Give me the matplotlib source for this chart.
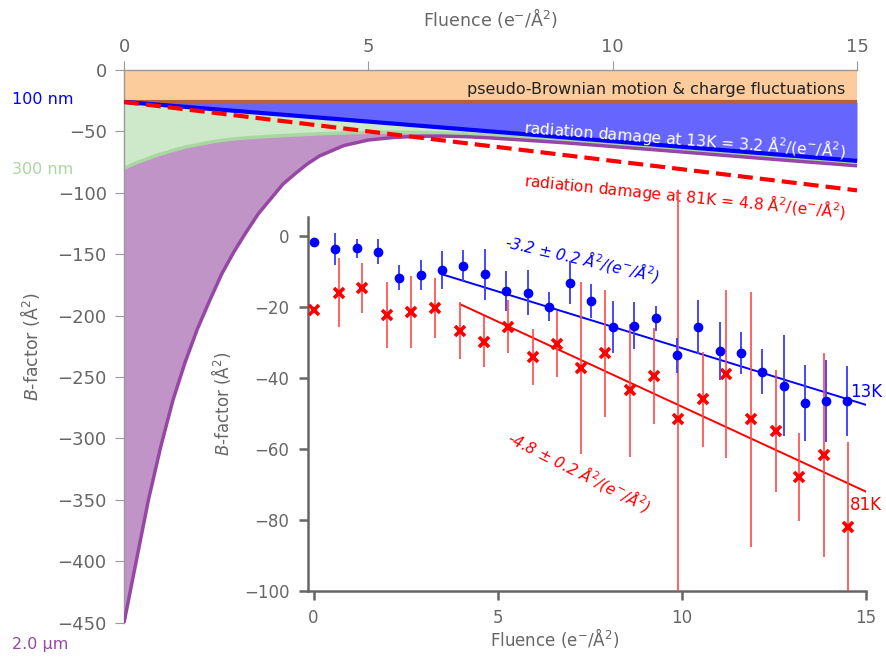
import numpy as np
import matplotlib
matplotlib.use("Agg")
import matplotlib.pyplot as plt

plt.rcParams['font.family'] = ['DejaVu Sans']

# Model curves for the main panel (fluence in e-/A^2, B-factor in A^2)
base_b = -26.0           # pseudo-Brownian motion & charge fluctuation offset
slope_13k = 3.2          # A^2 per e-/A^2
slope_81k = 4.8

fluence = [0, 0.25, 0.5, 0.75, 1.0, 1.25, 1.5, 1.75, 2.0, 2.25, 2.5, 2.75, 3.0,
           3.25, 3.5, 3.75, 4.0, 4.5, 5.0, 5.5, 6.0, 6.5, 7.0, 7.5, 8.0, 9.0,
           10.0, 11.0, 12.0, 13.0, 14.0, 15.0]
b_300nm = [-80, -75.5, -72, -68.5, -65.5, -62.8, -60.8, -58.9, -57.3, -56.1,
           -55.3, -54.6, -54, -53.4, -52.9, -52.4, -51.9, -51.2, -50.8, -50.6,
           -50.8, -51.3, -52.0, -53.2, -54.6, -57.6, -60.8, -64, -67.2, -70.4,
           -73.5, -76.6]
b_2um = [-450, -400, -350, -307, -269, -238, -211, -188, -166, -148, -132,
         -117, -105, -93, -84.5, -76.5, -70, -61.5, -57, -55, -54, -53.8,
         -54.3, -55.3, -56.6, -59.2, -62.3, -65.4, -68.6, -71.8, -74.9, -78]

# Measured B-factors for the inset
k13_x = [0.0, 0.59, 1.18, 1.75, 2.32, 2.91, 3.49, 4.07, 4.66, 5.24, 5.82, 6.40,
         6.98, 7.55, 8.13, 8.71, 9.29, 9.87, 10.44, 11.03, 11.61, 12.18, 12.77,
         13.36, 13.93, 14.50]
k13_b = [-1.5, -3.5, -3.3, -4.3, -11.6, -10.9, -9.5, -8.2, -10.6, -15.4, -15.9,
         -19.8, -13.0, -18.2, -25.5, -25.2, -23.1, -33.5, -25.5, -32.3, -32.8,
         -38.2, -42.1, -47.1, -46.4, -46.4]
k13_err = [0.0, 4.5, 2.7, 3.5, 3.6, 4.3, 5.3, 4.5, 7.2, 5.7, 6.4, 4.2, 6.0, 4.8,
           7.3, 6.7, 3.5, 4.9, 7.7, 8.1, 5.9, 6.3, 14.3, 10.7, 11.5, 9.8]

k81_x = [0.0, 0.68, 1.33, 1.99, 2.65, 3.31, 3.97, 4.62, 5.28, 5.95, 6.61, 7.27,
         7.93, 8.59, 9.26, 9.89, 10.57, 11.21, 11.88, 12.55, 13.20, 13.88, 14.51]
k81_b = [-20.8, -15.9, -14.6, -22.2, -21.4, -20.3, -26.6, -29.7, -25.5, -34.0,
         -30.4, -37.2, -33.0, -43.4, -39.4, -51.4, -45.9, -38.8, -51.6, -54.9,
         -67.9, -61.7, -82.1]
k81_err_hi = [0.0, 9.7, 7.0, 9.4, 10.2, 8.5, 8.0, 7.2, 7.5, 8.0, 9.4, 24.3,
              18.0, 18.8, 13.6, 64.5, 13.4, 23.8, 36.0, 17.1, 12.4, 28.7, 24.2]
k81_err_lo = [0.0, 9.7, 7.0, 9.4, 10.2, 8.5, 8.0, 7.2, 7.5, 8.0, 9.4, 24.3,
              18.0, 18.8, 13.6, 48.6, 13.4, 23.8, 36.0, 17.1, 12.4, 28.7, 17.9]

# linear fits (slope, intercept, fitted fluence range)
fit_13k = (-3.2, 0.5, 3.49, 15.0)
fit_81k = (-4.8, 0.0, 3.99, 15.0)

grey = '#666666'
x = np.array(fluence)
line13 = base_b - slope_13k * x
line81 = base_b - slope_81k * x

fig = plt.figure(figsize=(8.86, 6.58), dpi=100)

# ---- main panel ----
ax = fig.add_axes([124 / 886, 1 - 622.7 / 658, 733 / 886, 552.7 / 658])
ax.set_xlim(0, 15)
ax.set_ylim(-450, 0)

ax.fill_between([0, 15], base_b, 0, color='#fdcc9c', lw=0, zorder=1)
ax.fill_between(x, b_2um, b_300nm, color='#c194c7', lw=0, zorder=1)
ax.fill_between(x, b_300nm, line13, color='#cee9ca', lw=0, zorder=1)
ax.fill_between(x, line13, base_b, color='#6666ff', lw=0, zorder=1)
ax.plot([0, 15], [base_b, base_b], color='#b5603a', lw=3, zorder=2)
ax.plot(x, b_300nm, color='#a8d8a0', lw=2.5, zorder=2)
ax.plot(x, b_2um, color='#9647a3', lw=2.5, zorder=3)
ax.plot(x, line13, color='#0000ff', lw=3, zorder=4)
ax.plot(x, line81, color='#ff0000', lw=3, dashes=(3.6, 1.7), zorder=4)

ax.text(14.75, -15.5, 'pseudo-Brownian motion & charge fluctuations',
        ha='right', va='center', fontsize=11.5, color='#222222')
ax.text(14.8, -56, 'radiation damage at 13K = 3.2 Å$^2$/(e$^{-}$/Å$^2$)',
        ha='right', va='center', fontsize=11.2, color='white', rotation=-4.3,
        zorder=5)
ax.text(14.8, -102, 'radiation damage at 81K = 4.8 Å$^2$/(e$^{-}$/Å$^2$)',
        ha='right', va='center', fontsize=11.2, color='#ff0000', rotation=-5.7)

ax.xaxis.tick_top()
ax.xaxis.set_label_position('top')
ax.set_xticks([0, 5, 10, 15])
ax.set_yticks(np.arange(-450, 1, 50))
ax.tick_params(direction='out', length=6.5, width=0.8, color='#999999',
               labelcolor=grey, labelsize=13)
ax.tick_params(axis='y', pad=6)
for side in ['bottom', 'right']:
    ax.spines[side].set_visible(False)
for side in ['top', 'left']:
    ax.spines[side].set_color('#999999')
    ax.spines[side].set_linewidth(1)
ax.set_facecolor('none')
ax.set_xlabel('Fluence (e$^{-}$/Å$^2$)', fontsize=12.5, color=grey)
ax.set_ylabel('$B$-factor (Å$^2$)', fontsize=12.5, color=grey)
ax.xaxis.set_label_coords(0.5, 1.08)
ax.yaxis.set_label_coords(-0.112, 0.5)

fig.text(12 / 886, 1 - 100 / 658, '100 nm', color='#0000ff', fontsize=11.5, va='center')
fig.text(12 / 886, 1 - 170 / 658, '300 nm', color='#a8d8a0', fontsize=11.5, va='center')
fig.text(12 / 886, 1 - 645 / 658, '2.0 µm', color='#9647a3', fontsize=11.5, va='center')

# ---- inset with measurements ----
ins = fig.add_axes([308 / 886, 1 - 590.7 / 658, 557.7 / 886, 373.7 / 658])
ins.set_facecolor('none')
ins.set_xlim(-0.15, 15.0)
ins.set_ylim(-100, 5.5)

ins.errorbar(k13_x, k13_b, yerr=k13_err, fmt='o', color='#0000ff', ms=6,
             ecolor='#4646ff', elinewidth=1.4, capsize=0, zorder=5)
eb = ins.errorbar(k81_x, k81_b, yerr=[k81_err_lo, k81_err_hi], fmt='x',
                  color='#ff0000', ms=6.5, mew=2.6, ecolor='#ff4848',
                  elinewidth=1.2, capsize=0, zorder=4)
for coll in eb[2]:
    coll.set_clip_on(False)

for (m, c, x0, x1), col in [(fit_13k, '#0000ff'), (fit_81k, '#ff0000')]:
    fx = np.array([x0, x1])
    ins.plot(fx, c + m * fx, color=col, lw=1.4, zorder=3)

ins.text(7.3, -6.1, '-3.2 ± 0.2 Å$^2$/(e$^{-}$/Å$^2$)', color='#0000ff',
         fontsize=11, style='italic', rotation=-13, ha='center', va='center')
ins.text(7.22, -66.2, '-4.8 ± 0.2 Å$^2$/(e$^{-}$/Å$^2$)', color='#ff0000',
         fontsize=11, style='italic', rotation=-27, ha='center', va='center')
ins.text(14.58, -43.9, '13K', color='#0000ff', fontsize=12, va='center',
         clip_on=False)
ins.text(14.58, -75.8, '81K', color='#ff0000', fontsize=12, va='center',
         clip_on=False)

ins.set_xticks([0, 5, 10, 15])
ins.set_yticks([0, -20, -40, -60, -80, -100])
ins.tick_params(direction='out', length=6.5, width=1.8, color=grey,
                labelcolor=grey, labelsize=12, pad=7)
for side in ['top', 'right']:
    ins.spines[side].set_visible(False)
for side in ['left', 'bottom']:
    ins.spines[side].set_color(grey)
    ins.spines[side].set_linewidth(1.8)
ins.set_xlabel('Fluence (e$^{-}$/Å$^2$)', fontsize=12, color=grey)
ins.set_ylabel('$B$-factor (Å$^2$)', fontsize=12, color=grey)
ins.xaxis.set_label_coords(0.443, -0.095)
ins.yaxis.set_label_coords(-0.135, 0.5)

fig.savefig('out.png', dpi=100)
